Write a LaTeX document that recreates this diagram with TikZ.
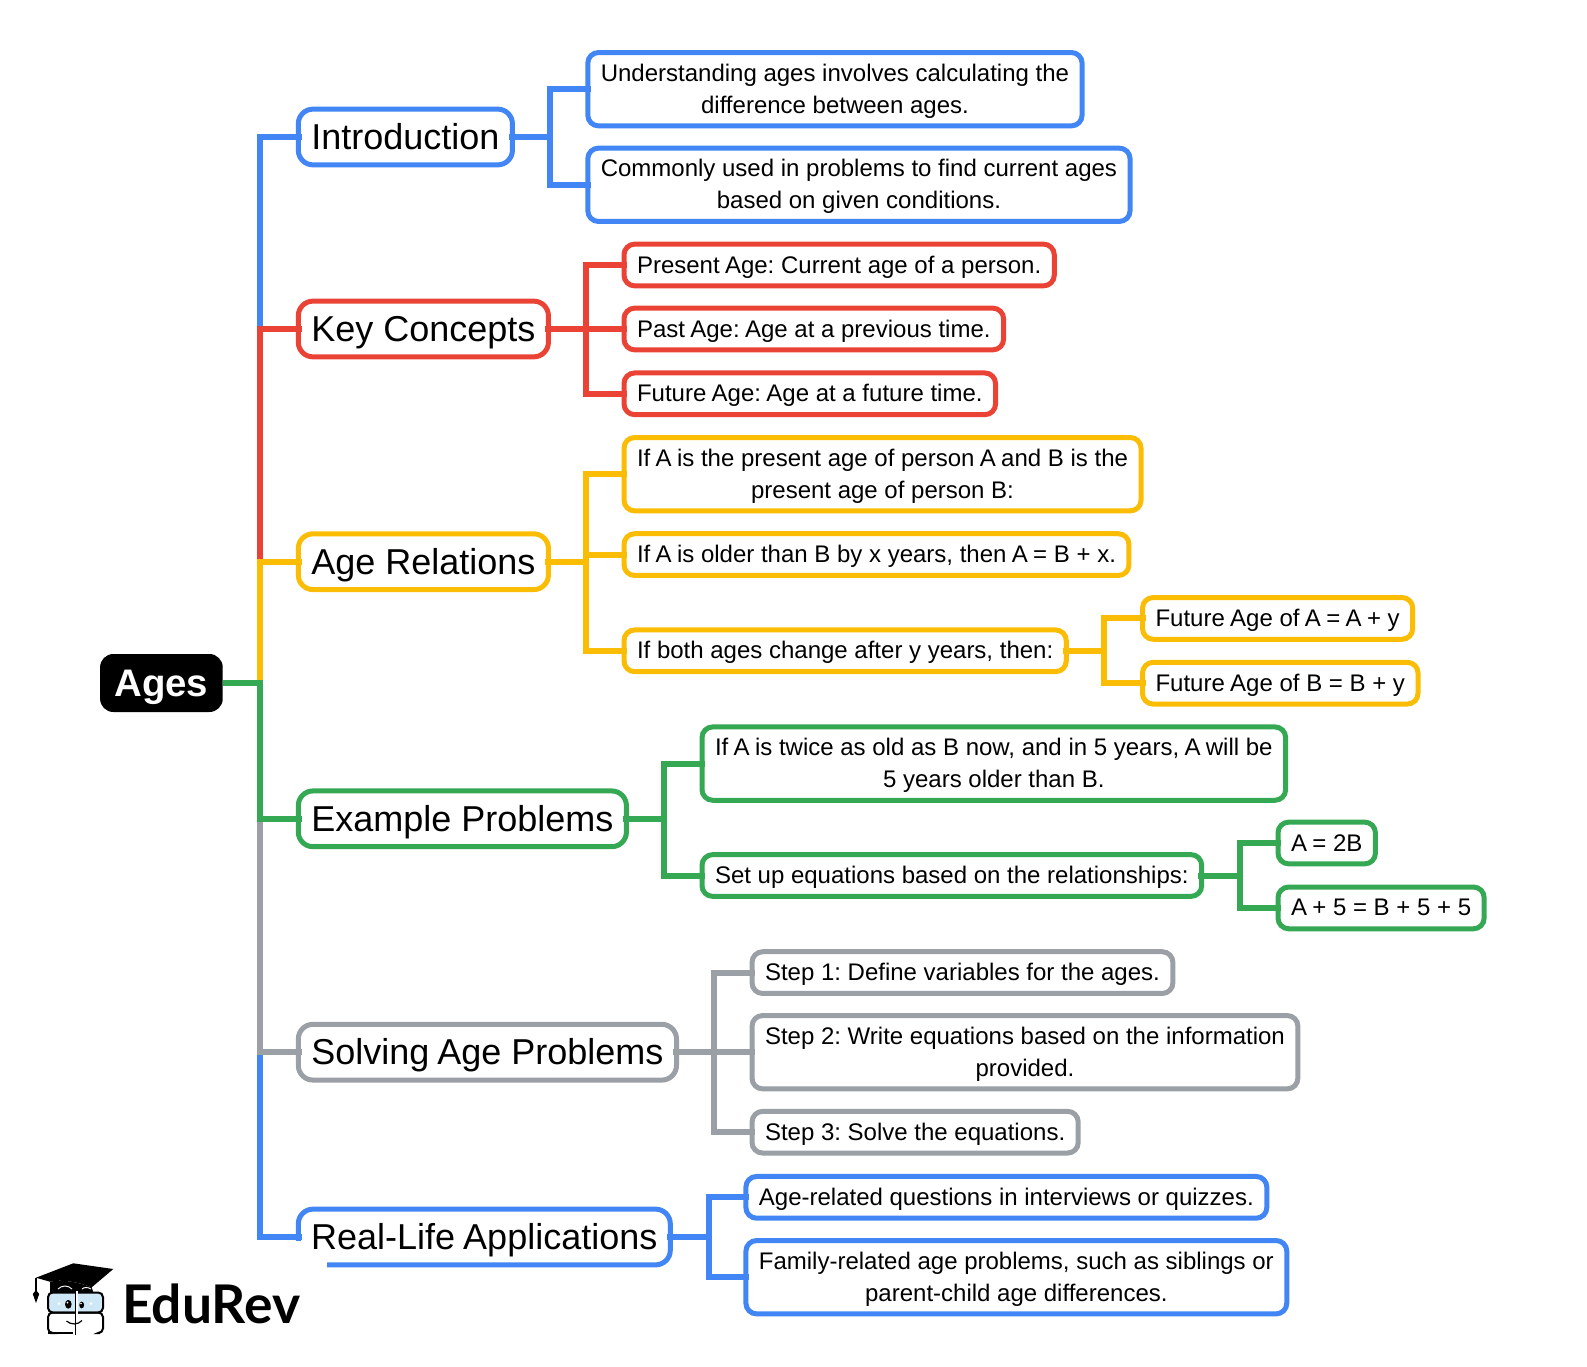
\documentclass[tikz,border=0pt]{standalone}
\usepackage{fontspec}
\setmainfont{Liberation Sans}
\newfontfamily\logofont{Lato}
\definecolor{gblue}{HTML}{4285F4}
\definecolor{gred}{HTML}{EA4335}
\definecolor{gamber}{HTML}{FBBC04}
\definecolor{ggreen}{HTML}{34A853}
\definecolor{ggray}{HTML}{9AA0A6}
\definecolor{glass}{HTML}{CFE8F7}
\newcommand{\kn}{\kern-0.055em}
\newcommand{\branch}[4]{
\foreach \c in {#4} {
\draw[#1] (#2.east) -- (#2.east-|#3) |- (\c.west);
}
}
\frenchspacing
\begin{document}
\begin{tikzpicture}[x=0.75pt,y=-0.75pt,
% centre and main topics
rootbox/.style={fill=black, text=white, rounded corners=10pt, minimum width=92pt, minimum height=43.5pt, inner sep=0, text height=23.5pt, text depth=3pt, font=\fontsize{28.8}{34}\selectfont\bfseries},
topic/.style={draw, anchor=west, line width=3.75pt, outer sep=0, rounded corners=11pt, inner xsep=9.75pt, inner ysep=2pt, minimum height=41.8pt, text height=22.5pt, text depth=3.5pt, font=\fontsize{27}{32}\selectfont},
% leaves with one or two lines of text
leaf/.style={draw, anchor=west, line width=3.75pt, outer sep=0, rounded corners=8pt, inner xsep=9.75pt, inner ysep=2pt, align=center, font=\fontsize{18}{24}\selectfont},
oneline/.style={leaf, minimum height=31.3pt, text height=14.5pt, text depth=2.5pt},
twoline/.style={leaf, minimum height=55pt, text depth=0.9pt},
% connectors
link/.style={line width=4.5pt, shorten <=-2.5pt, shorten >=-2.5pt},
trunklink/.style={line width=4.5pt, shorten >=-2.5pt}
]

\useasboundingbox (0,0) rectangle (1587,1366);

% centre
\node[rootbox] (ages) at (161.4,683) {Ages};
\coordinate (trunk) at (260.3,683);

% main topics
\node[topic, draw=gblue] (intro) at (298.3,137) {Introduction};
\node[topic, draw=gred] (concepts) at (298.3,329) {Key Concepts};
\node[topic, draw=gamber] (relations) at (298.3,561.7) {Age Relations};
\node[topic, draw=ggreen] (examples) at (298.3,818.8) {Example Problems};
\node[topic, draw=ggray] (solving) at (298.3,1052.2) {Solving \kn Age Problems};
\node[topic, draw=gblue, minimum width=279pt] (reallife) at (298.3,1237) {};

% introduction
\coordinate (eintro) at (550.3,137);
\node[twoline, draw=gblue] (understanding) at (587.8,89.2) {Understanding ages involves calculating the\\difference between ages.};
\node[twoline, draw=gblue] (commonly) at (587.8,184.8) {Commonly used in problems to find current ages\\based on given conditions.};

% key concepts
\coordinate (econcepts) at (586,329);
\node[oneline, draw=gred] (present) at (624,265) {Present \kn Age: Current age of a person.};
\node[oneline, draw=gred] (past) at (624,329) {Past \kn Age: \kn Age at a previous time.};
\node[oneline, draw=gred] (future) at (624,393.8) {Future \kn Age: \kn Age at a future time.};

% age relations
\coordinate (erelations) at (586,561.7);
\node[twoline, draw=gamber] (persons) at (624,474.2) {If \kn A\kn{} is the present age of person \kn A\kn{} and B is the\\present age of person B:};
\node[oneline, draw=gamber] (older) at (624,554.6) {If \kn A\kn{} is older than B by x years, then \kn A\kn{} = B + x.};
\node[oneline, draw=gamber] (change) at (624,650.8) {If both ages change after y years, then:};
\coordinate (echange) at (1104.2,650.8);
\node[oneline, draw=gamber] (futurea) at (1142.5,618.4) {Future \kn Age of \kn A\kn{} = \kn A\kn{} + y};
\node[oneline, draw=gamber] (futureb) at (1142.5,683.2) {Future \kn Age of B = B + y};

% example problems
\coordinate (eexamples) at (664,818.8);
\node[twoline, draw=ggreen] (twice) at (702,763.6) {If \kn A\kn{} is twice as old as B now, and in 5 years, \kn A\kn{} will be\\5 years older than B.};
\node[oneline, draw=ggreen] (setup) at (702,875.5) {Set up equations based on the relationships:};
\coordinate (esetup) at (1239.8,875.5);
\node[oneline, draw=ggreen] (eqone) at (1278,843) {A\kn{} = 2B};
\node[oneline, draw=ggreen] (eqtwo) at (1278,907.9) {A\kn{} + 5 = B + 5 + 5};

% solving age problems
\coordinate (esolving) at (713.5,1052.2);
\node[oneline, draw=ggray] (stepone) at (752,972.6) {Step 1: Define variables for the ages.};
\node[twoline, draw=ggray] (steptwo) at (752,1052.2) {Step 2: Write equations based on the information\\provided.};
\node[oneline, draw=ggray] (stepthree) at (752,1132.2) {Step 3: Solve the equations.};

% real-life applications
\coordinate (ereallife) at (708.5,1237);
\node[oneline, draw=gblue] (quizzes) at (745.9,1197.3) {Age-related questions in interviews or quizzes.};
\node[twoline, draw=gblue] (family) at (745.9,1277.2) {Family-related age problems, such as siblings or\\parent-child age differences.};

% trunk, the nearest branch is drawn last
\draw[trunklink, gblue] (ages.east) -- (trunk) |- (intro.west);
\draw[trunklink, gred] (ages.east) -- (trunk) |- (concepts.west);
\draw[trunklink, gamber] (ages.east) -- (trunk) |- (relations.west);
\draw[trunklink, gblue] (ages.east) -- (trunk) |- (reallife.west);
\draw[trunklink, ggray] (ages.east) -- (trunk) |- (solving.west);
\draw[trunklink, ggreen] (ages.east) -- (trunk) |- (examples.west);

% branches
\branch{link, gblue}{intro}{eintro}{understanding,commonly}
\branch{link, gred}{concepts}{econcepts}{present,past,future}
\branch{link, gamber}{relations}{erelations}{persons,older,change}
\branch{link, gamber}{change}{echange}{futurea,futureb}
\branch{link, ggreen}{examples}{eexamples}{twice,setup}
\branch{link, ggreen}{setup}{esetup}{eqone,eqtwo}
\branch{link, ggray}{solving}{esolving}{stepone,steptwo,stepthree}
\branch{link, gblue}{reallife}{ereallife}{quizzes,family}

% logo
\fill[white] (0,1241) rectangle (327.3,1366);
\node[anchor=center, font=\fontsize{27}{32}\selectfont, text height=22.5pt, text depth=3.5pt, inner sep=0] (reallifetext) at (reallife.center) {Real-Life \kn Applications};

\fill (36,1277.7) -- (73.3,1263.3) -- (113.3,1269) -- (91.7,1287.3) .. controls (78,1282) and (62,1279) .. (50,1281.7) -- cycle;
\fill (50,1281.7) .. controls (62,1279) and (78,1282) .. (91.7,1287.3) -- (93.5,1293) -- (50,1293.5) -- cycle;
\draw[white, line width=0.7pt] (58,1289) .. controls (62,1285) and (68,1285) .. (72,1289) (82,1289) .. controls (84,1287) and (88,1287) .. (91,1289);
\draw[line width=0.8pt] (36,1277.7) -- (36,1293);
\fill (32.8,1294) -- (36,1290) -- (39.2,1294) -- (36,1303) -- cycle;
\draw[line width=1.5pt, rounded corners=3.5pt, fill=glass] (48,1292.5) rectangle (103,1312.5);
\draw[line width=1.5pt, rounded corners=3.5pt] (50,1333) -- (48,1333) -- (48,1312.5) -- (103,1312.5) -- (103,1333) -- (100,1333);
\draw[line width=1.5pt] (48,1333) -- (73,1333);
\draw[white, line width=1.6pt] (77,1291) -- (77,1335);
\draw[line width=1pt] (75.5,1293) -- (75.5,1335);
\fill (68.3,1304.3) ellipse [x radius=3.3, y radius=4.4];
\fill (81.7,1305) ellipse [x radius=2.4, y radius=3.4];
\fill[white] (67.5,1302.5) circle [radius=1];
\fill[white] (81,1303.5) circle [radius=0.8];
\fill[white] (59,1303.5) circle [radius=1.5];
\fill[white] (91,1303.5) circle [radius=1.5];
\draw[line width=0.9pt] (66.5,1321) .. controls (71,1325) and (78,1325) .. (82,1320.5);
\node[anchor=base west, inner sep=0, font=\logofont\fontsize{40}{44}\selectfont\bfseries] (edurev) at (122,1323.3) {EduRev};

\end{tikzpicture}
\end{document}
